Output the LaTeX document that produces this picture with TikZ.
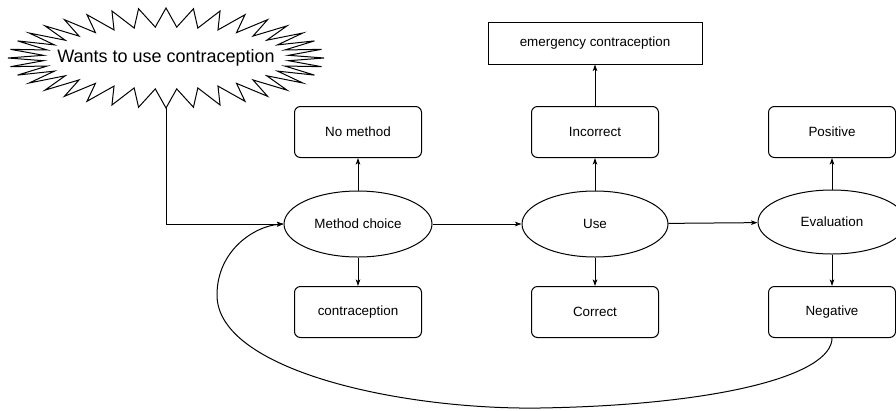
\documentclass[tikz,border=0pt]{standalone}
\usepackage{fontspec}
\setmainfont{Liberation Sans}
\usetikzlibrary{shapes.geometric,arrows.meta}
\begin{document}
\begin{tikzpicture}[x=1pt,y=-1pt,
  every path/.style={line width=1pt},
  txt/.style={font=\fontsize{13.4}{16}\selectfont},
  rbox/.style={draw, rounded corners=6pt, minimum width=127pt, minimum height=51pt, txt, inner sep=0pt},
  sbox/.style={draw, minimum width=214pt, minimum height=42pt, txt, inner sep=0pt},
  ell/.style={draw, ellipse, minimum width=148pt, minimum height=66pt, txt, inner sep=0pt},
  arr/.style={-{Stealth[length=6.5pt,width=4.5pt,inset=1.5pt]}}]
\useasboundingbox (0,0) rectangle (896,410);
% starburst
\draw (324,58) \foreach \k in {0,...,35} { -- ({166+123*cos(10*\k+5)},{58+31*sin(10*\k+5)}) -- ({166+158*cos(10*\k+10)},{58+50*sin(10*\k+10)}) } -- cycle;
\node[font=\fontsize{18}{22}\selectfont] (want) at (166,58) {Wants to use contraception};
\coordinate (sbb) at (166,108);
% nodes
\node[ell] (mc) at (358,224) {Method choice};
\node[ell, minimum width=146pt] (use) at (595,224) {Use};
\node[ell, minimum height=64pt] (ev) at (832,222) {Evaluation};
\node[rbox] (nm) at (358,132) {No method};
\node[rbox] (inc) at (595,132) {Incorrect};
\node[rbox] (pos) at (832,132) {Positive};
\node[sbox] (em) at (595,43) {emergency contraception};
\node[rbox] (con) at (358,312) {contraception};
\node[rbox] (cor) at (595,312) {Correct};
\node[rbox] (neg) at (832,312) {Negative};
% connectors
\draw[arr] (sbb) |- (mc.west);
\draw[arr] (mc) -- (use);
\draw[arr] (use) -- (ev);
\draw[arr] (mc) -- (nm);
\draw[arr] (mc) -- (con);
\draw[arr] (use) -- (inc);
\draw[arr] (inc) -- (em);
\draw[arr] (use) -- (cor);
\draw[arr] (ev) -- (pos);
\draw[arr] (ev) -- (neg);
\draw[arr] (neg.south) .. controls (832,375) and (720,405) .. (540,408)
  .. controls (400,410) and (217,370) .. (217,295)
  .. controls (217,250) and (255,226) .. (mc.west);
\end{tikzpicture}
\end{document}
